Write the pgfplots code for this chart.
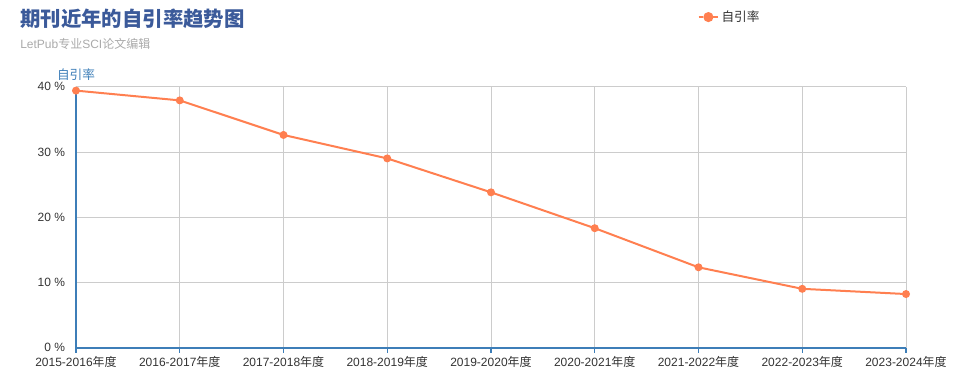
\documentclass[border=0pt]{standalone}
\usepackage{fontspec}
\setmainfont{Liberation Sans}
\newfontfamily\cjk{Noto Sans CJK SC}
\usepackage{pgfplots}
\pgfplotsset{compat=1.18}
\definecolor{linecol}{HTML}{FF7F50}
\definecolor{axiscol}{HTML}{3D7EB8}
\definecolor{titlecol}{HTML}{3B5A9A}
\definecolor{gridcol}{HTML}{CCCCCC}
\definecolor{subcol}{HTML}{AAAAAA}
\definecolor{textcol}{HTML}{333333}
\begin{document}
\begin{tikzpicture}[x=0.75pt,y=-0.75pt]
\useasboundingbox (0,0) rectangle (957,386);
\node[anchor=west,inner sep=0pt,text=titlecol,font=\fontsize{15.3}{17}\selectfont\bfseries\cjk] at (20,19) {期刊近年的自引率趋势图};
\node[anchor=west,inner sep=0pt,text=subcol,font=\fontsize{9}{11}\selectfont] at (20,44) {LetPub{\cjk 专业}SCI{\cjk 论文编辑}};
\begin{axis}[
  at={(76pt*0.75,-347.5pt*0.75)}, anchor=south west,
  scale only axis, width=622.5pt, height=195.6pt,
  xmin=0, xmax=8, ymin=0, ymax=40,
  axis lines*=left,
  axis line style={axiscol, line width=1.5pt},
  grid=major, grid style={gridcol, line width=0.6pt},
  xtick={0,...,8},
  xticklabels={2015-2016{\cjk 年度},2016-2017{\cjk 年度},2017-2018{\cjk 年度},2018-2019{\cjk 年度},2019-2020{\cjk 年度},2020-2021{\cjk 年度},2021-2022{\cjk 年度},2022-2023{\cjk 年度},2023-2024{\cjk 年度}},
  ytick={0,10,20,30,40},
  yticklabels={0 \%,10 \%,20 \%,30 \%,40 \%},
  tick label style={font=\fontsize{9}{11}\selectfont, text=textcol},
  tick align=outside, major tick length=3.75pt,
  xtick style={draw=axiscol, line width=0.8pt},
  ytick style={draw=none},
  xticklabel style={yshift=1pt},
  yticklabel style={xshift=-1pt},
  legend style={at={(0.749,1.267)}, anchor=west, draw=none, fill=none, font=\fontsize{9.5}{11}\selectfont\cjk, text=textcol, inner sep=0pt},
  legend image code/.code={\draw[linecol, line width=1.2pt] (0pt,0pt) -- (3.5pt,0pt); \draw[linecol, line width=1.2pt] (11pt,0pt) -- (14.5pt,0pt); \fill[linecol] (7.25pt,0pt) circle (3pt);},
  clip=false,
]
\addplot[linecol, line width=1.5pt, mark=*, mark size=2.2pt, mark options={fill=linecol, draw=linecol}] coordinates {
(0,39.4) (1,37.9) (2,32.6) (3,29.0) (4,23.8) (5,18.3) (6,12.3) (7,9.0) (8,8.2)
};
\addlegendentry{自引率}
\end{axis}
\node[text=axiscol,inner sep=0pt,font=\fontsize{9.5}{11}\selectfont\cjk] at (76,75) {自引率};
\end{tikzpicture}
\end{document}
